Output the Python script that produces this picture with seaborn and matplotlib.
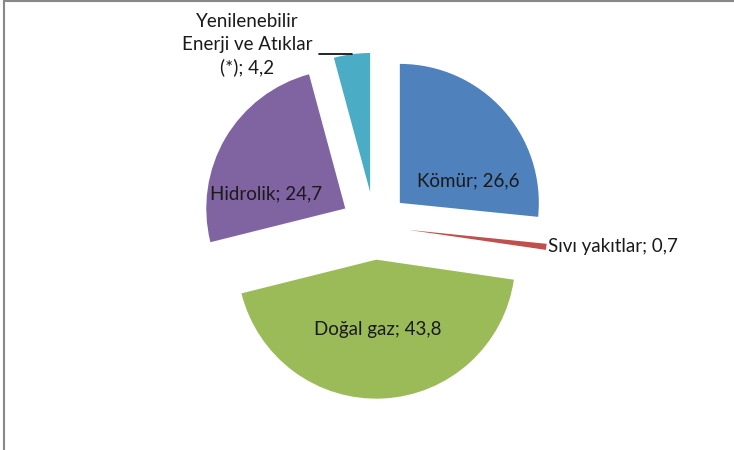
import matplotlib.pyplot as plt
import numpy as np
import seaborn as sns
from matplotlib.lines import Line2D

# enerji kaynaklarına göre dağılım (%)
sources = ['Kömür', 'Sıvı yakıtlar', 'Doğal gaz', 'Hidrolik',
           'Yenilenebilir\nEnerji ve Atıklar\n(*)']
shares = [26.6, 0.7, 43.8, 24.7, 4.2]
colors = ['#4F81BD', '#C0504D', '#9BBB59', '#8064A2', '#4BACC6']

sns.set_theme(style='white')
plt.rcParams['font.family'] = ['Lato', 'DejaVu Sans']

W, H = 734, 450
fig = plt.figure(figsize=(W / 100, H / 100), dpi=100)
ax = fig.add_axes([0, 0, 1, 1])

# explode is in data units here (pixels), all slices pulled out equally
wedges, _ = ax.pie(
    shares,
    colors=sns.color_palette(colors),
    startangle=90,
    counterclock=False,
    explode=[34] * len(shares),
    radius=139,
    center=(374.6, H - 225.7),
    wedgeprops=dict(linewidth=0),
    frame=True,
)
ax.set_xlim(0, W)
ax.set_ylim(0, H)
ax.set_aspect('equal')
ax.axis('off')

# label placement: angle clockwise from top (deg), distance as fraction of radius
label_pos = [(72, 0.52), (97, 1.0), (179, 0.50), (280.6, 0.58), (320.1, 1.38)]
label_ha = ['center', 'left', 'center', 'center', 'center']

for w, name, val, (a, f), ha in zip(wedges, sources, shares, label_pos, label_ha):
    cx, cy = w.center
    t = np.deg2rad(a)
    x = cx + f * w.r * np.sin(t)
    y = cy + f * w.r * np.cos(t)
    if ha == 'left':
        x += 2
    txt = f'{name}; {val:.1f}'.replace('.', ',')
    ax.text(x, y, txt, ha=ha, va='center', fontsize=13.5, color='#1a1a1a',
            linespacing=1.38)

# leader line for the small renewable slice
w = wedges[-1]
tm = np.deg2rad((w.theta1 + w.theta2) / 2)
mx = w.center[0] + w.r * np.cos(tm)
my = w.center[1] + w.r * np.sin(tm)
ax.plot([mx - 33, mx], [my, my], color='black', linewidth=1.2)

# chart frame (top and left edges visible)
fig.add_artist(Line2D([3.5 / W, 3.5 / W], [0, 1], color='#888888', linewidth=1.5))
fig.add_artist(Line2D([3.5 / W, 1], [1 - 0.8 / H, 1 - 0.8 / H], color='#888888', linewidth=1.5))

fig.savefig('out.png', dpi=100)
